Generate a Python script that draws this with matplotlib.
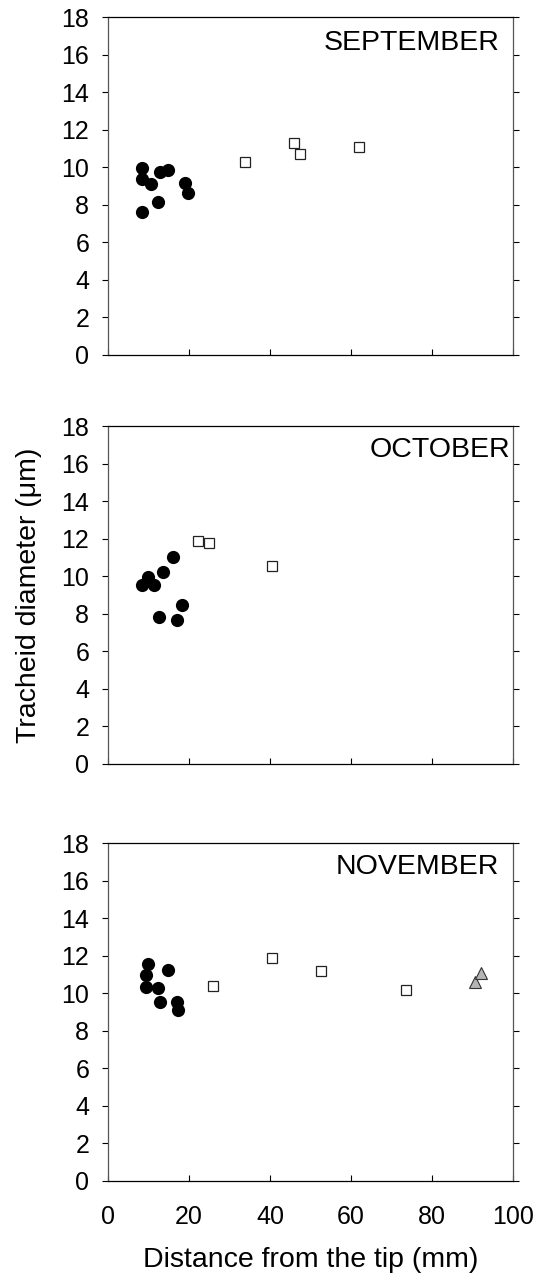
import matplotlib
matplotlib.use('Agg')
import matplotlib.pyplot as plt

plt.rcParams['font.family'] = ['Liberation Sans', 'DejaVu Sans']

# September
sep_circle_x = [8.3, 8.3, 10.7, 12.8, 14.9, 18.9, 19.8, 12.3, 8.3]
sep_circle_y = [9.98, 9.38, 9.11, 9.73, 9.84, 9.16, 8.64, 8.14, 7.59]
sep_square_x = [33.9, 45.9, 47.5, 62.0]
sep_square_y = [10.29, 11.29, 10.70, 11.10]

# October
oct_circle_x = [9.8, 8.3, 11.4, 13.7, 16.0, 18.2, 12.6, 17.0]
oct_circle_y = [9.95, 9.52, 9.52, 10.25, 11.02, 8.48, 7.84, 7.66]
oct_square_x = [22.1, 24.9, 40.5]
oct_square_y = [11.88, 11.75, 10.54]

# November
nov_circle_x = [9.8, 9.3, 14.8, 9.3, 12.4, 12.8, 17.0, 17.2]
nov_circle_y = [11.57, 10.95, 11.23, 10.32, 10.27, 9.54, 9.52, 9.09]
nov_square_x = [25.9, 40.4, 52.5, 73.5]
nov_square_y = [10.36, 11.85, 11.20, 10.16]
nov_triangle_x = [90.5, 92.1]
nov_triangle_y = [10.60, 11.10]

months = ['SEPTEMBER', 'OCTOBER', 'NOVEMBER']
y_ticks = [0, 2, 4, 6, 8, 10, 12, 14, 16, 18]
x_ticks = [0, 20, 40, 60, 80, 100]

fig = plt.figure(figsize=(5.38, 12.83), dpi=100)
W, H = 538.0, 1283.0
boxes = [(17, 355), (426, 764), (843, 1181)]
axes = []
for top, bot in boxes:
    ax = fig.add_axes([108 / W, 1 - bot / H, 405 / W, (bot - top) / H])
    axes.append(ax)

data = [
    (sep_circle_x, sep_circle_y, sep_square_x, sep_square_y),
    (oct_circle_x, oct_circle_y, oct_square_x, oct_square_y),
    (nov_circle_x, nov_circle_y, nov_square_x, nov_square_y),
]
label_pos = [(96.8, 16.6), (99.3, 16.7), (96.5, 16.7)]

for i, ax in enumerate(axes):
    cx, cy, sx, sy = data[i]
    ax.plot(cx, cy, 'o', color='black', markersize=9.5, markeredgewidth=0, zorder=3)
    ax.plot(sx, sy, 's', markerfacecolor='white', markeredgecolor='#222222',
            markersize=7.5, markeredgewidth=0.9, zorder=3)
    if i == 2:
        ax.plot(nov_triangle_x, nov_triangle_y, '^', markerfacecolor='#b4b4b4',
                markeredgecolor='#333333', markersize=9, markeredgewidth=0.8, zorder=3)
    ax.set_xlim(0, 100)
    ax.set_ylim(0, 18)
    ax.set_yticks(y_ticks)
    ax.set_xticks(x_ticks)
    ax.tick_params(axis='y', which='both', direction='out', length=4.5, width=0.8,
                   labelsize=18, pad=9, right=True, left=True, colors='black')
    ax.tick_params(axis='x', which='both', direction='in', length=4, width=0.8,
                   labelsize=18, pad=17, top=False)
    if i < 2:
        ax.set_xticklabels([])
    for side in ['left', 'right']:
        ax.spines[side].set_color('#555555')
        ax.spines[side].set_linewidth(0.9)
    for side in ['top', 'bottom']:
        ax.spines[side].set_color('black')
        ax.spines[side].set_linewidth(0.9)
    lx, ly = label_pos[i]
    ax.text(lx, ly, months[i], ha='right', va='center', fontsize=20.5)

axes[2].set_xlabel('Distance from the tip (mm)', fontsize=20.5, labelpad=13)
fig.text(29 / W, 1 - 595 / H, 'Tracheid diameter (\u03bcm)', rotation=90,
         ha='center', va='center', fontsize=20.5)

plt.savefig('out.png', dpi=100)
plt.close()
